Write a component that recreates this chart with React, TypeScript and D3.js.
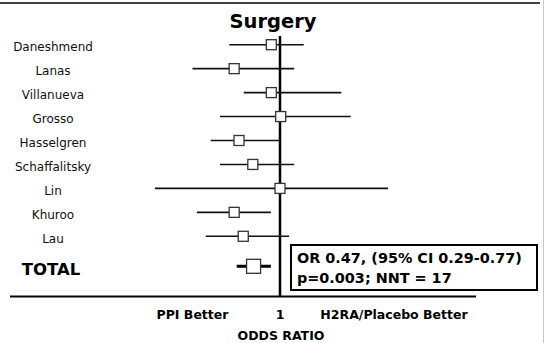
import React from "react";
import * as d3 from "d3";

// study rows (odds ratios with 95% CI)
const studies = ["Daneshmend", "Lanas", "Villanueva", "Grosso", "Hasselgren", "Schaffalitsky", "Lin", "Khuroo", "Lau"];
const oddsRatio = [0.78, 0.27, 0.78, 1.02, 0.31, 0.46, 1.0, 0.27, 0.35];
const ciLow = [0.235, 0.082, 0.355, 0.18, 0.138, 0.18, 0.028, 0.093, 0.12];
const ciHigh = [1.97, 1.5, 5.76, 7.54, 1.02, 1.5, 21.9, 0.77, 1.3];

const totalLabel = "TOTAL";
const totalOR = 0.47;
const totalLow = 0.29;
const totalHigh = 0.77;

const title = "Surgery";
const summaryLines = ["OR 0.47, (95% CI 0.29-0.77)", "p=0.003; NNT = 17"];
const leftNote = "PPI Better";
const rightNote = "H2RA/Placebo Better";
const axisTitle = "ODDS RATIO";

const W = 544;
const H = 343;
const font = "'DejaVu Sans', Verdana, sans-serif";

export default function App() {
  // log scale, 1 sits at x=280
  const x = d3.scaleLog().domain([0.01, 100]).range([118.8, 441.2]);
  const y = d3.scalePoint<string>().domain(studies).range([46.7, 238.3]);

  const refX = x(1);
  const baseY = 296.5;
  const totalY = (y(studies[studies.length - 1]) as number) + 28;
  const sq = 10;
  const bigSq = 14;

  const rows = studies.map((s, i) => ({
    name: s,
    or: oddsRatio[i],
    lo: ciLow[i],
    hi: ciHigh[i],
  }));

  return (
    <svg
      width={W}
      height={H}
      style={{ position: "absolute", left: 0, top: 0, background: "#fff" }}
      fontFamily={font}
    >
      {/* frame */}
      <line x1={0} x2={540} y1={3} y2={3} stroke="#000" strokeWidth={1.5} />
      <line x1={543.5} x2={543.5} y1={0} y2={H} stroke="#c8c8c8" strokeWidth={1} />

      <text x={273} y={28} textAnchor="middle" fontSize={19.5} fontWeight="bold">
        {title}
      </text>

      {/* study labels */}
      {rows.map((d) => (
        <text key={d.name} x={53} y={y(d.name)} dy="0.35em" textAnchor="middle" fontSize={12} fill="#111">
          {d.name}
        </text>
      ))}
      <text x={51} y={totalY + 3} dy="0.35em" textAnchor="middle" fontSize={16.5} fontWeight="bold">
        {totalLabel}
      </text>

      {/* reference line & baseline */}
      <line x1={refX} x2={refX} y1={36} y2={baseY} stroke="#000" strokeWidth={2.5} />
      <line x1={10} x2={476} y1={baseY} y2={baseY} stroke="#000" strokeWidth={2} />

      {/* CI lines and squares */}
      {rows.map((d) => {
        const cy = (y(d.name) as number) - 2;
        return (
          <g key={d.name}>
            <line x1={x(d.lo)} x2={x(d.hi)} y1={cy} y2={cy} stroke="#111" strokeWidth={1.6} />
            <rect
              x={x(d.or) - sq / 2}
              y={cy - sq / 2}
              width={sq}
              height={sq}
              fill="#fff"
              stroke="#333"
              strokeWidth={1.3}
            />
          </g>
        );
      })}
      <line x1={x(totalLow)} x2={x(totalHigh)} y1={totalY} y2={totalY} stroke="#000" strokeWidth={3} />
      <rect
        x={x(totalOR) - bigSq / 2}
        y={totalY - bigSq / 2}
        width={bigSq}
        height={bigSq}
        fill="#fff"
        stroke="#333"
        strokeWidth={1.3}
      />

      {/* summary box */}
      <rect x={291} y={245} width={246} height={45} fill="#fff" stroke="#000" strokeWidth={2} />
      {summaryLines.map((t, i) => (
        <text key={t} x={297} y={263 + i * 19.5} fontSize={14.4} fontWeight="bold">
          {t}
        </text>
      ))}

      {/* bottom labels */}
      <text x={192.5} y={318.5} textAnchor="middle" fontSize={12.5} fontWeight="bold">
        {leftNote}
      </text>
      <text x={refX} y={318.5} textAnchor="middle" fontSize={12.5} fontWeight="bold">
        1
      </text>
      <text x={394} y={318.5} textAnchor="middle" fontSize={12.5} fontWeight="bold">
        {rightNote}
      </text>
      <text x={281} y={340} textAnchor="middle" fontSize={12.5} fontWeight="bold">
        {axisTitle}
      </text>
    </svg>
  );
}
